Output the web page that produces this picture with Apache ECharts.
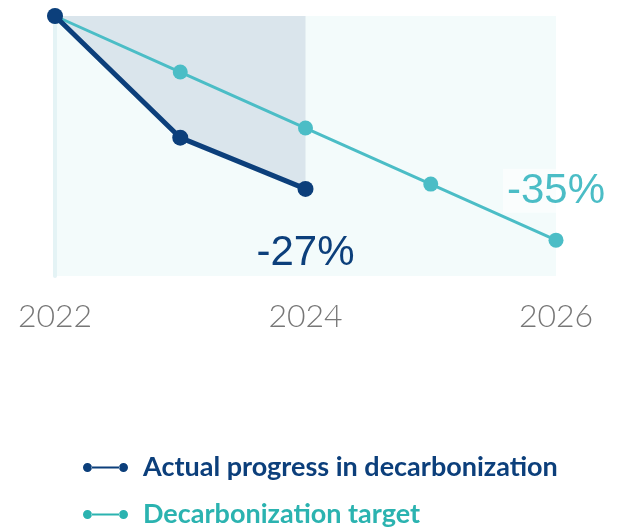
<!DOCTYPE html>
<html>
<head>
<meta charset="utf-8">
<script src="https://cdn.jsdelivr.net/npm/echarts@6/dist/echarts.min.js"></script>
<style>
  html, body { margin: 0; padding: 0; background: #ffffff; }
  #chart { width: 617px; height: 527px; }
</style>
</head>
<body>
<div id="chart"></div>
<script>
// Years along the x axis (only every other one is labelled)
const years = ['2022', '2023', '2024', '2025', '2026'];
// Cumulative change in emissions vs. 2022, percent
const actualProgress = [0, -19, -27, null, null];
const targetPath = [0, -8.75, -17.5, -26.25, -35];
const seriesNames = ['Actual progress in decarbonization', 'Decarbonization target'];

const navy = '#0c3f7b';
const teal = '#4bbdc6';
const tealText = '#2bb3b0';

const labelFont = { fontFamily: 'Liberation Sans', fontSize: 42 };

// Only the latest value of each series carries a label
function withEndLabel(values, label) {
  let last = -1;
  values.forEach((v, i) => { if (v !== null) last = i; });
  return values.map((v, i) => (i === last ? { value: v, label: Object.assign({ show: true }, label) } : v));
}

// Legend marker: a short line with a dot at each end
const legendIcon = 'path://M0,5a4.5,4.5 0 1,0 9,0a4.5,4.5 0 1,0 -9,0Z M8.5,4L36.5,4L36.5,6L8.5,6Z M36,5a4.5,4.5 0 1,0 9,0a4.5,4.5 0 1,0 -9,0Z';

function legendRow(name, color, top) {
  return {
    orient: 'vertical',
    left: 78,
    top: top,
    itemWidth: 45,
    itemHeight: 10,
    icon: legendIcon,
    itemStyle: { color: color },
    data: [name],
    textStyle: {
      color: color,
      fontFamily: 'Lato',
      fontWeight: 'bold',
      fontSize: 27,
      padding: [0, 0, 0, 10]
    }
  };
}

const chart = echarts.init(document.getElementById('chart'), null, { renderer: 'canvas' });
chart.setOption({
  animation: false,
  backgroundColor: '#ffffff',
  grid: {
    left: 55, right: 61, top: 16, bottom: 251,
    show: true, backgroundColor: '#f3fbfb', borderWidth: 0
  },
  xAxis: {
    type: 'category',
    data: years,
    boundaryGap: false,
    axisLine: { show: false },
    axisTick: { show: false },
    splitLine: { show: false },
    axisLabel: {
      interval: 1,
      margin: 25,
      color: '#777777',
      fontFamily: 'Lato',
      fontWeight: 300,
      fontSize: 32
    }
  },
  yAxis: {
    type: 'value',
    min: -40.6,
    max: 0,
    axisLine: { show: true, lineStyle: { color: '#e4f3f5', width: 4 } },
    axisTick: { show: false },
    axisLabel: { show: false },
    splitLine: { show: false }
  },
  legend: [
    legendRow(seriesNames[0], navy, 449),
    legendRow(seriesNames[1], tealText, 496)
  ],
  series: [
    {
      // shaded gap between the zero line and actual progress
      name: 'gap',
      type: 'line',
      data: actualProgress,
      symbol: 'none',
      lineStyle: { width: 0 },
      areaStyle: { origin: 'end', color: '#dae5ec', opacity: 1 },
      z: 1,
      silent: true
    },
    {
      name: seriesNames[1],
      type: 'line',
      data: withEndLabel(targetPath, Object.assign({
        position: 'top',
        distance: 20,
        color: teal,
        formatter: '{c}%',
        backgroundColor: 'rgba(255,255,255,0.6)',
        padding: [2, 4, 0, 4]
      }, labelFont)),
      color: teal,
      symbol: 'circle',
      symbolSize: 15,
      lineStyle: { width: 3, color: teal },
      itemStyle: { color: teal },
      z: 2
    },
    {
      name: seriesNames[0],
      type: 'line',
      data: withEndLabel(actualProgress, Object.assign({
        position: 'bottom',
        distance: 36,
        color: navy,
        formatter: '{c}%'
      }, labelFont)),
      color: navy,
      symbol: 'circle',
      symbolSize: 16,
      lineStyle: { width: 5, color: navy },
      itemStyle: { color: navy },
      z: 3
    }
  ]
});
</script>
</body>
</html>
